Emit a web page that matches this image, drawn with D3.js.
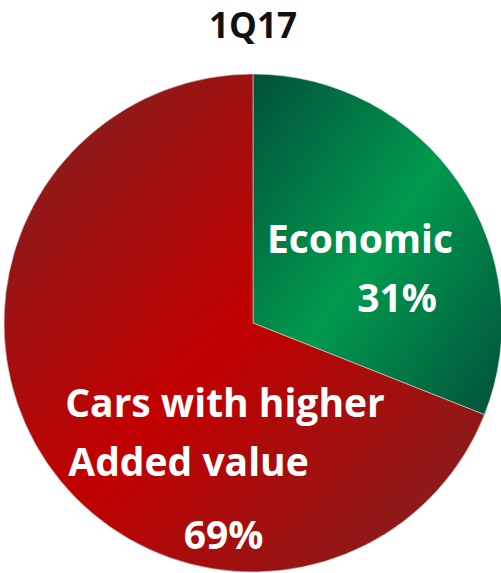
<!DOCTYPE html>
<html><head><meta charset="utf-8">
<script src="https://cdn.jsdelivr.net/npm/d3@7"></script>
<style>html,body{margin:0;padding:0;background:#fff;}svg{display:block;}</style>
</head><body>
<svg id="chart" width="501" height="573"></svg>
<script>
const title = "1Q17";
const categories = ["Economic", "Cars with higher Added value"];
const values = [31, 69];
const percentLabels = ["31%", "69%"];

const svg = d3.select("#chart");
const W = 501, H = 573;
const cx = 253, cy = 323, R = 249;
const font = "'Open Sans', sans-serif";

const defs = svg.append("defs");
const grads = [
  {id: "gGreen", dark: "#00513a", bright: "#009a4e"},
  {id: "gRed", dark: "#7a2322", bright: "#c20000"}
];
grads.forEach(g => {
  const lg = defs.append("linearGradient").attr("id", g.id)
    .attr("x1", "0").attr("y1", "0").attr("x2", "1").attr("y2", "1");
  lg.append("stop").attr("offset", "0").attr("stop-color", g.dark);
  lg.append("stop").attr("offset", "0.5").attr("stop-color", g.bright);
  lg.append("stop").attr("offset", "1").attr("stop-color", g.dark);
});

svg.append("text").attr("x", cx).attr("y", 38).attr("text-anchor", "middle")
  .attr("font-family", font).attr("font-weight", 700).attr("font-size", 35)
  .attr("fill", "#111").text(title);

const pie = d3.pie().sort(null).value(d => d)(values);
const arc = d3.arc().innerRadius(0).outerRadius(R);
const g = svg.append("g").attr("transform", `translate(${cx},${cy})`);
g.selectAll("path").data(pie).join("path")
  .attr("d", arc)
  .attr("fill", (d, i) => `url(#${grads[i].id})`)
  .attr("stroke", "#d8d8d8").attr("stroke-width", 0.6);

// labels
const labelDefs = [
  {lines: [{t: categories[0], dx: 107, dy: -70}, {t: percentLabels[0], dx: 144, dy: -11}]},
  {lines: [{t: "Cars with higher", dx: -28, dy: 94}, {t: "Added value", dx: -64.5, dy: 153}, {t: percentLabels[1], dx: -29.5, dy: 226}]}
];
labelDefs.forEach(ld => {
  ld.lines.forEach(l => {
    g.append("text").attr("x", l.dx).attr("y", l.dy).attr("text-anchor", "middle")
      .attr("font-family", font).attr("font-weight", 700).attr("font-size", 39)
      .attr("fill", "#fff").text(l.t);
  });
});
</script>
</body></html>
